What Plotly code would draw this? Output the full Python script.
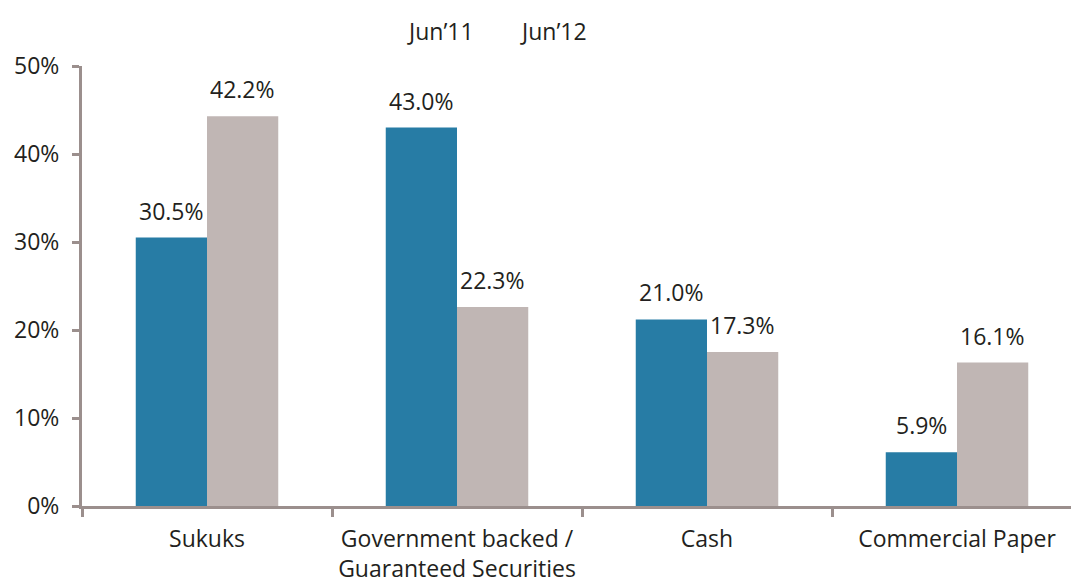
import plotly.graph_objects as go

categories = ["Sukuks", "Government backed /<br>Guaranteed Securities", "Cash", "Commercial Paper"]
series_names = ["Jun’11", "Jun’12"]
# bar heights as drawn in the picture
jun11 = [30.5, 43.0, 21.2, 6.1]
jun12 = [44.3, 22.6, 17.5, 16.3]
# value labels as printed in the picture
jun11_labels = ["30.5%", "43.0%", "21.0%", "5.9%"]
jun12_labels = ["42.2%", "22.3%", "17.3%", "16.1%"]
y_ticks = [0, 10, 20, 30, 40, 50]

colors = ["#277ca5", "#c0b6b4"]
axis_color = "#9b8f8d"
text_color = "#231f20"
font_family = "Open Sans"
fsize = 23

fig = go.Figure()
for name, vals, col in zip(series_names, [jun11, jun12], colors):
    fig.add_trace(go.Bar(x=categories, y=vals, name=name, marker_color=col,
                         marker_line_width=0, showlegend=False))

annotations = []
bar_px = 71.5
for i, (vals, labels) in enumerate(zip([jun11, jun12], [jun11_labels, jun12_labels])):
    shift = -bar_px / 2 if i == 0 else bar_px / 2
    for c, v, t in zip(categories, vals, labels):
        annotations.append(dict(x=c, y=v, xref="x", yref="y", text=t,
                                showarrow=False, xshift=shift, yanchor="bottom", yshift=9,
                                font=dict(family=font_family, size=fsize, color=text_color)))

legend_x = [0.3625, 0.477]
for name, lx in zip(series_names, legend_x):
    annotations.append(dict(x=lx, y=1.08, xref="paper", yref="paper", text=name,
                            showarrow=False, xanchor="center", yanchor="middle",
                            font=dict(family=font_family, size=fsize, color=text_color)))

fig.update_layout(
    width=1071, height=583,
    margin=dict(l=82, r=0, t=66, b=77, pad=0, autoexpand=False),
    paper_bgcolor="white", plot_bgcolor="white",
    barmode="group", bargap=0.43, bargroupgap=0,
    font=dict(family=font_family, size=fsize, color=text_color),
    annotations=annotations,
)
fig.update_xaxes(
    type="category", range=[-0.5, 3.456], tickson="boundaries", automargin=False,
    showline=True, linecolor=axis_color, linewidth=3,
    ticks="outside", ticklen=8, tickwidth=3, tickcolor=axis_color,
    showgrid=False, zeroline=False, ticklabelstandoff=10,
    tickfont=dict(family=font_family, size=fsize, color=text_color),
)
fig.update_yaxes(
    range=[0, 50], tickvals=y_ticks, ticktext=[f"{t}%" for t in y_ticks], automargin=False,
    showline=True, linecolor=axis_color, linewidth=3,
    ticks="outside", ticklen=7, tickwidth=3, tickcolor=axis_color,
    showgrid=False, zeroline=False, ticklabelstandoff=8,
    tickfont=dict(family=font_family, size=fsize, color=text_color),
)

fig.write_html("out.html")
